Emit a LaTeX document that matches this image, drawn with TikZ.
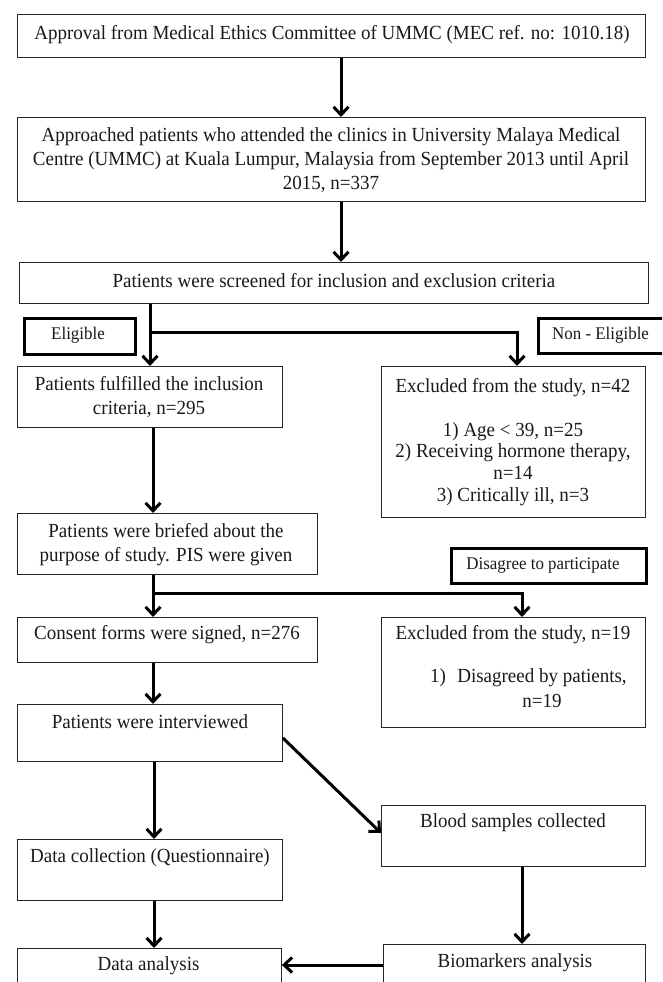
\documentclass[tikz,border=0pt]{standalone}
\usepackage{fontspec}
\setmainfont{Liberation Serif}[FakeStretch=0.95]
\usetikzlibrary{arrows.meta,calc}
\begin{document}
\begin{tikzpicture}[x=1pt,y=-1pt,
 box/.style={draw=black!85, line width=0.9pt, rectangle, inner sep=0pt, anchor=north west},
 tagbox/.style={draw=black, line width=3.2pt, rectangle, inner sep=0pt, anchor=north west},
 txt/.style={font=\fontsize{20}{24}\selectfont, align=center, inner sep=0pt, text=black!90},
 tagtxt/.style={font=\fontsize{17.8}{20}\selectfont, inner sep=0pt, text=black!90},
 arr/.style={line width=3pt, -{Straight Barb[length=8pt,width=15pt]}}]
\useasboundingbox (0,0) rectangle (662,982);
\clip (0,0) rectangle (662,982);
% boxes
\node[box, minimum width=628pt, minimum height=43pt] (b1) at (17,14) {};
\node[box, minimum width=628pt, minimum height=84pt] (b2) at (17,117) {};
\node[box, minimum width=629pt, minimum height=41pt] (b3) at (19,262) {};
\node[tagbox, minimum width=111pt, minimum height=36pt] (el) at (23,317) {};
\node[tagbox, minimum width=140pt, minimum height=35pt] (ne) at (537,317) {};
\node[box, minimum width=265pt, minimum height=61pt] (b4) at (17,366) {};
\node[box, minimum width=264pt, minimum height=151pt] (b5) at (381,366) {};
\node[box, minimum width=300pt, minimum height=61pt] (b6) at (17,513) {};
\node[tagbox, minimum width=195pt, minimum height=35pt] (dis) at (450,547) {};
\node[box, minimum width=300pt, minimum height=45pt] (b7) at (17,617) {};
\node[box, minimum width=264pt, minimum height=110pt] (b8) at (381,617) {};
\node[box, minimum width=265pt, minimum height=57pt] (b9) at (17,704) {};
\node[box, minimum width=264pt, minimum height=61pt] (blood) at (381,805) {};
\node[box, minimum width=265pt, minimum height=61pt] (b10) at (17,839) {};
\node[box, minimum width=264pt, minimum height=60pt] (b12) at (17,948) {};
\node[box, minimum width=262pt, minimum height=60pt] (bio) at (383,944) {};
% texts
\node[txt] (t1) at (332,35) {Approval from Medical Ethics Committee of UMMC (MEC ref. no: 1010.18)};
\node[txt] (t2) at (331,160) {Approached patients who attended the clinics in University Malaya Medical\\Centre (UMMC) at Kuala Lumpur, Malaysia from September 2013 until April\\2015, n=337};
\node[txt] (t3) at (334,281) {Patients were screened for inclusion and exclusion criteria};
\node[tagtxt] (tel) at (78,335) {Eligible};
\node[tagtxt, anchor=west] (tne) at (552,335) {Non - Eligible};
\node[txt] (t4) at (149,397) {Patients fulfilled the inclusion\\criteria, n=295};
\node[txt] (t5a) at (513,388) {Excluded from the study, n=42};
\node[txt, font=\fontsize{20}{21.7}\selectfont] (t5b) at (513,464) {1) Age < 39, n=25\\2) Receiving hormone therapy,\\n=14\\3) Critically ill, n=3};
\node[txt] (t6) at (166,545) {Patients were briefed about the\\purpose of study. PIS were given};
\node[tagtxt] (tdis) at (543,566) {Disagree to participate};
\node[txt] (t7) at (167,635) {Consent forms were signed, n=276};
\node[txt] (t8a) at (513,635) {Excluded from the study, n=19};
\node[txt, anchor=base west] (t8n) at (430,682) {1)};
\node[txt, anchor=base] (t8b) at (542,682) {Disagreed by patients,};
\node[txt, anchor=base] (t8c) at (542,707) {n=19};
\node[txt] (t9) at (150,722) {Patients were interviewed};
\node[txt] (t10) at (150,858) {Data collection (Questionnaire)};
\node[txt] (tblood) at (513,823) {Blood samples collected};
\node[txt] (t12) at (148.5,966) {Data analysis};
\node[txt] (tbio) at (515,963) {Biomarkers analysis};
% connectors
\coordinate (j1) at (150,332);
\coordinate (j2) at (153,593);
\draw[arr] (b1.south -| 341,0) -- (b2.north -| 341,0);
\draw[arr] (b2.south -| 341,0) -- (b3.north -| 341,0);
\draw[arr] (b3.south -| 150,0) -- (b4.north -| 150,0);
\draw[arr] (j1) -| (b5.north -| 517,0);
\draw[arr] (b4.south -| 153,0) -- (b6.north -| 153,0);
\draw[arr] (b6.south -| 153,0) -- (b7.north -| 153,0);
\draw[arr] (j2) -| (b8.north -| 522,0);
\draw[arr] (b7.south -| 153,0) -- (b9.north -| 153,0);
\draw[arr] (b9.south -| 154,0) -- (b10.north -| 154,0);
\draw[arr] (b9.east |- 0,738) -- (blood.west |- 0,833);
\draw[arr] (b10.south -| 154,0) -- (b12.north -| 154,0);
\draw[arr] (blood.south -| 522,0) -- (bio.north -| 522,0);
\draw[arr] (bio.west |- 0,965) -- (b12.east |- 0,965);
\end{tikzpicture}
\end{document}
